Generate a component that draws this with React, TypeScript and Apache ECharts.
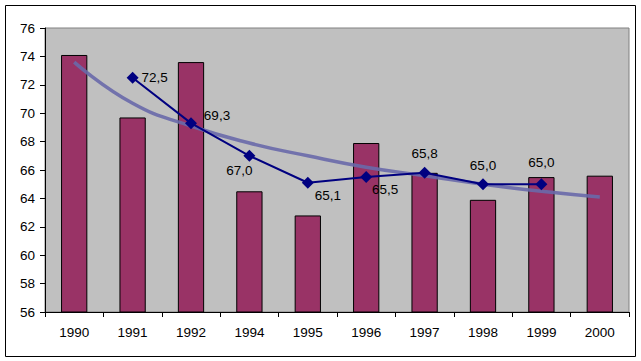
import React, { useEffect, useRef } from "react";
import * as echarts from "echarts";

const categories = ["1990", "1991", "1992", "1994", "1995", "1996", "1997", "1998", "1999", "2000"];
const barValues = [74.1, 69.7, 73.6, 64.5, 62.8, 67.9, 65.8, 63.9, 65.5, 65.6];
const lineValues: (number | null)[] = [null, 72.5, 69.3, 67.0, 65.1, 65.5, 65.8, 65.0, 65.0, null];
const trendValues = [73.6, 70.7, 69.1, 67.9, 67.0, 66.2, 65.6, 65.0, 64.5, 64.1];
const yMin = 56;
const yMax = 76;
const yStep = 2;

// label placement per point: [dx, dy]
const labelOffsets: [number, number][] = [
  [0, 0], [22, 0], [26, -8], [-10, 15], [20, 13], [19, 12], [0, -19], [0, -19], [0, -22], [0, 0],
];

const FONT = "'Liberation Sans', Arial, sans-serif";

export default function App() {
  const ref = useRef<HTMLDivElement>(null);
  useEffect(() => {
    if (!ref.current) return;
    const chart = echarts.init(ref.current, null, { renderer: "svg" });
    chart.setOption({
      animation: false,
      backgroundColor: "#ffffff",
      textStyle: { fontFamily: FONT },
      grid: {
        left: 45,
        top: 28,
        right: 12,
        bottom: 49,
        show: true,
        backgroundColor: "#C0C0C0",
        borderColor: "#808080",
        borderWidth: 1,
      },
      graphic: [
        {
          type: "rect",
          shape: { x: 5.5, y: 5.5, width: 630, height: 351 },
          style: { fill: "none", stroke: "#000", lineWidth: 1 },
          z: 100,
        },
      ],
      xAxis: {
        type: "category",
        data: categories,
        boundaryGap: true,
        axisLine: { lineStyle: { color: "#000", width: 1 } },
        axisTick: { show: true, alignWithLabel: false, length: 5, lineStyle: { color: "#000" } },
        axisLabel: { color: "#000", fontSize: 13.5, margin: 13, fontFamily: FONT },
        splitLine: { show: false },
      },
      yAxis: {
        type: "value",
        min: yMin,
        max: yMax,
        interval: yStep,
        axisLine: { show: true, lineStyle: { color: "#000", width: 1 } },
        axisTick: { show: true, length: 5, lineStyle: { color: "#000" } },
        axisLabel: { color: "#000", fontSize: 13.5, margin: 10, fontFamily: FONT },
        splitLine: { show: false },
      },
      series: [
        {
          type: "bar",
          data: barValues,
          barWidth: "45%",
          itemStyle: { color: "#993366", borderColor: "#000", borderWidth: 1 },
          z: 1,
        },
        {
          type: "line",
          data: trendValues,
          smooth: true,
          symbol: "none",
          lineStyle: { color: "rgba(105,105,170,0.9)", width: 3.5 },
          z: 2,
        },
        {
          type: "line",
          data: lineValues.map((v, i) => ({
            value: v,
            label: {
              show: v !== null,
              position: "inside",
              offset: labelOffsets[i],
            },
          })),
          symbol: "diamond",
          symbolSize: 12,
          lineStyle: { color: "#000080", width: 2 },
          itemStyle: { color: "#000080" },
          label: {
            show: true,
            color: "#000",
            fontSize: 13.5,
            fontFamily: FONT,
            formatter: (p: any) => (p.value == null ? "" : Number(p.value).toFixed(1).replace(".", ",")),
          },
          z: 3,
        },
      ],
    });
    return () => chart.dispose();
  }, []);
  return (
    <div
      ref={ref}
      style={{ position: "fixed", left: 0, top: 0, width: 641, height: 361, background: "#fff" }}
    />
  );
}
